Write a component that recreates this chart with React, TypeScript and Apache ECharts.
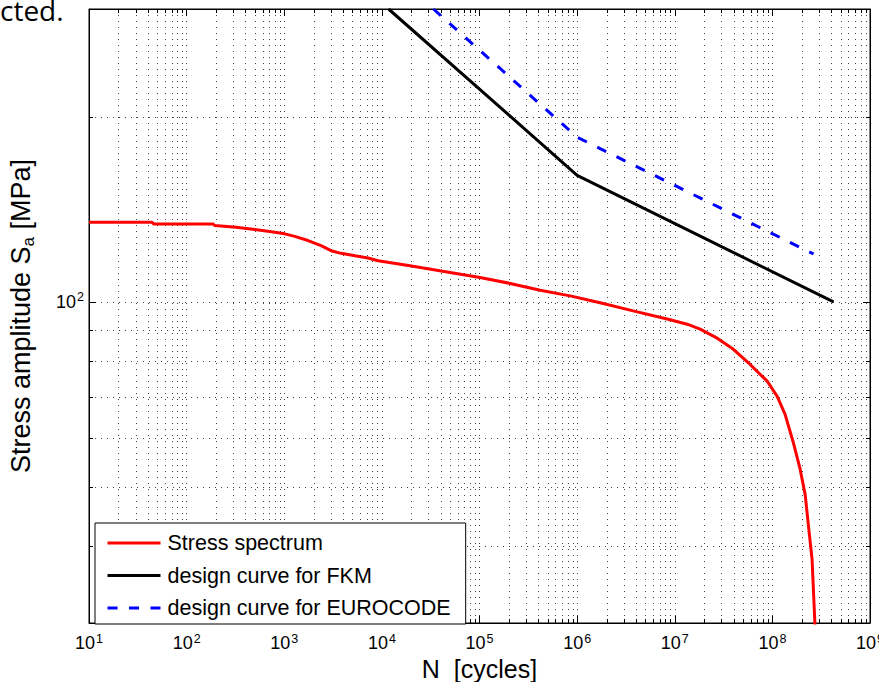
import React, { useEffect, useRef } from "react";
import * as echarts from "echarts";

// ---- data ----
const spectrumN = [10, 44, 46, 186, 194, 321, 499, 710, 1011, 1281, 1754, 2384, 3017, 3820, 5312, 7220, 9140, 1.94e4, 5.0e4, 1.01e5, 2.06e5, 4.18e5, 8.48e5, 1.72e6, 3.75e6, 8.36e6, 1.34e7, 1.82e7, 2.72e7, 3.96e7, 5.92e7, 8.85e7, 1.12e8, 1.35e8, 1.63e8, 1.92e8, 2.17e8, 2.32e8, 2.55e8, 2.62e8, 2.75e8];
const spectrumS = [134.9, 134.9, 134.0, 134.0, 133.2, 132.3, 131.2, 130.2, 129.1, 127.9, 125.9, 123.5, 121.2, 120.0, 118.9, 117.9, 116.7, 114.5, 111.7, 109.6, 107.2, 104.5, 102.3, 99.7, 96.7, 93.8, 92.0, 90.3, 87.3, 83.8, 79.1, 74.3, 70.2, 65.6, 59.2, 53.5, 48.5, 43.8, 38.1, 34.6, 29.0];

const fkmN = [1.17e4, 1e6, 4.23e8];
const fkmS = [300, 160.8, 100];

const euroN = [3.37e4, 1e6, 2.64e8];
const euroS = [300, 185.5, 119.7];

const seriesNames = ["Stress spectrum", "design curve for FKM", "design curve for EUROCODE"];

// axis ranges and minor grid positions
const xMin = 10;
const xMax = 1e9;
const yMin = 30;
const yMax = 300;
const xMinorTicks: number[] = [];
for (let e = 1; e < 9; e++) {
  for (let m = 2; m <= 9; m++) xMinorTicks.push(m * Math.pow(10, e));
}
const yMinorTicks = [40, 50, 60, 70, 80, 90, 200];

const FONT = "Liberation Sans, Arial, Helvetica, sans-serif";
const GRID_COLOR = "#444";
const GRID_DASH = [1, 5];

function zip(a: number[], b: number[]) {
  return a.map((v, i) => [v, b[i]]);
}

const supRich = {
  b: { fontSize: 18, lineHeight: 22, fontFamily: FONT, color: "#000" },
  s: { fontSize: 12.5, lineHeight: 22, fontFamily: FONT, color: "#000", verticalAlign: "top" as const, padding: [0, 0, 0, 1] },
};

export default function App() {
  const ref = useRef<HTMLDivElement>(null);

  useEffect(() => {
    if (!ref.current) return;
    document.documentElement.style.overflow = "hidden";
    document.body.style.overflow = "hidden";
    const chart = echarts.init(ref.current, undefined, { renderer: "svg" });

    const crisp = (v: number) => Math.round(v) + 0.5;

    const option: any = {
      animation: false,
      backgroundColor: "#fff",
      textStyle: { fontFamily: FONT },
      grid: {
        left: 89,
        right: 9,
        top: 9,
        bottom: 59,
        containLabel: false,
        outerBoundsMode: "none",
        show: true,
        borderColor: "#000",
        borderWidth: 1,
        backgroundColor: "transparent",
      },
      graphic: [
        {
          type: "text",
          x: 0,
          y: 24,
          style: {
            text: "cted.",
            font: '28px "Open Sans", sans-serif',
            fill: "#000",
            align: "left",
            verticalAlign: "bottom",
          },
          z: 10,
        },
      ],
      legend: {
        orient: "vertical",
        left: 95,
        top: 523,
        data: seriesNames,
        itemWidth: 53,
        itemHeight: 20,
        itemGap: 10.5,
        padding: [9, 15, 5, 11],
        backgroundColor: "#fff",
        borderColor: "#000",
        borderWidth: 1,
        borderRadius: 0,
        itemStyle: { opacity: 0, borderWidth: 0 },
        lineStyle: { width: 3 },
        textStyle: { fontSize: 21.5, fontFamily: FONT, color: "#000", lineHeight: 20, padding: [0, 0, 0, 2] },
        z: 20,
      },
      xAxis: [
        {
          type: "log",
          logBase: 10,
          min: xMin,
          max: xMax,
          position: "bottom",
          name: "N  [cycles]",
          nameLocation: "middle",
          nameGap: 28,
          nameTextStyle: { fontSize: 25, fontFamily: FONT, color: "#000" },
          axisLine: { show: true, lineStyle: { color: "#000", width: 1 } },
          axisTick: { show: true, inside: true, length: 7, lineStyle: { color: "#000" } },
          axisLabel: {
            margin: 9,
            showMinLabel: true,
            showMaxLabel: true,
            hideOverlap: false,
            formatter: (v: number) => `{b|10}{s|${Math.round(Math.log10(v))}}`,
            rich: supRich,
          },
          splitLine: { show: true, lineStyle: { color: GRID_COLOR, type: GRID_DASH, width: 1 } },
        },
        {
          type: "log",
          logBase: 10,
          min: xMin,
          max: xMax,
          position: "top",
          axisLine: { show: true, lineStyle: { color: "#000", width: 1 } },
          axisTick: { show: true, inside: true, length: 7, lineStyle: { color: "#000" } },
          axisLabel: { show: false },
          splitLine: { show: false },
        },
      ],
      yAxis: [
        {
          type: "log",
          logBase: 10,
          min: yMin,
          max: yMax,
          position: "left",
          name: "Stress amplitude S{sub|a} [MPa]",
          nameLocation: "middle",
          nameGap: 52,
          nameTextStyle: {
            fontSize: 27,
            fontFamily: FONT,
            color: "#000",
            rich: {
              sub: { fontSize: 17, fontFamily: FONT, color: "#000", verticalAlign: "bottom", lineHeight: 32 },
            },
          },
          axisLine: { show: true, lineStyle: { color: "#000", width: 1 } },
          axisTick: { show: true, inside: true, length: 7, lineStyle: { color: "#000" } },
          axisLabel: {
            margin: 5,
            showMinLabel: false,
            showMaxLabel: false,
            formatter: (v: number) => (Math.abs(Math.log10(v) - 2) < 1e-6 ? "{b|10}{s|2}" : ""),
            rich: supRich,
          },
          splitLine: { show: true, lineStyle: { color: GRID_COLOR, type: GRID_DASH, width: 1 } },
        },
        {
          type: "log",
          logBase: 10,
          min: yMin,
          max: yMax,
          position: "right",
          axisLine: { show: true, lineStyle: { color: "#000", width: 1 } },
          axisTick: { show: true, inside: true, length: 7, lineStyle: { color: "#000" } },
          axisLabel: { show: false },
          splitLine: { show: false },
        },
      ],
      series: [
        {
          type: "custom",
          name: "xMinor",
          xAxisIndex: 0,
          yAxisIndex: 0,
          silent: true,
          z: 1,
          data: xMinorTicks.map((v) => [v, 100]),
          encode: { x: 0, y: 1 },
          renderItem: (params: any, api: any) => {
            const cs = params.coordSys;
            const x = crisp(api.coord([api.value(0), 100])[0]);
            const top = cs.y;
            const bot = cs.y + cs.height;
            return {
              type: "group",
              children: [
                { type: "line", shape: { x1: x, y1: top, x2: x, y2: bot }, style: { stroke: GRID_COLOR, lineWidth: 1, lineDash: GRID_DASH } },
                { type: "line", shape: { x1: x, y1: bot, x2: x, y2: bot - 4 }, style: { stroke: "#000", lineWidth: 1 } },
                { type: "line", shape: { x1: x, y1: top, x2: x, y2: top + 4 }, style: { stroke: "#000", lineWidth: 1 } },
              ],
            };
          },
        },
        {
          type: "custom",
          name: "yMinor",
          xAxisIndex: 0,
          yAxisIndex: 0,
          silent: true,
          z: 1,
          data: yMinorTicks.map((v) => [1000, v]),
          encode: { x: 0, y: 1 },
          renderItem: (params: any, api: any) => {
            const cs = params.coordSys;
            const y = crisp(api.coord([1000, api.value(1)])[1]);
            const l = cs.x;
            const r = cs.x + cs.width;
            return {
              type: "group",
              children: [
                { type: "line", shape: { x1: l, y1: y, x2: r, y2: y }, style: { stroke: GRID_COLOR, lineWidth: 1, lineDash: GRID_DASH } },
                { type: "line", shape: { x1: l, y1: y, x2: l + 4, y2: y }, style: { stroke: "#000", lineWidth: 1 } },
                { type: "line", shape: { x1: r, y1: y, x2: r - 4, y2: y }, style: { stroke: "#000", lineWidth: 1 } },
              ],
            };
          },
        },
        {
          type: "line",
          name: seriesNames[0],
          data: zip(spectrumN, spectrumS),
          showSymbol: false,
          symbol: "none",
          clip: true,
          z: 5,
          lineStyle: { color: "#ff0000", width: 3 },
          itemStyle: { color: "#ff0000" },
        },
        {
          type: "line",
          name: seriesNames[1],
          data: zip(fkmN, fkmS),
          showSymbol: false,
          symbol: "none",
          clip: true,
          z: 5,
          lineStyle: { color: "#000000", width: 3 },
          itemStyle: { color: "#000000" },
        },
        {
          type: "line",
          name: seriesNames[2],
          data: zip(euroN, euroS),
          showSymbol: false,
          symbol: "none",
          clip: true,
          z: 5,
          lineStyle: { color: "#0000ff", width: 3, type: [10, 11.5] },
          itemStyle: { color: "#0000ff" },
        },
      ],
    };

    chart.setOption(option);
    return () => chart.dispose();
  }, []);

  return <div ref={ref} style={{ width: 879, height: 682, position: "absolute", left: 0, top: 0, overflow: "hidden" }} />;
}
